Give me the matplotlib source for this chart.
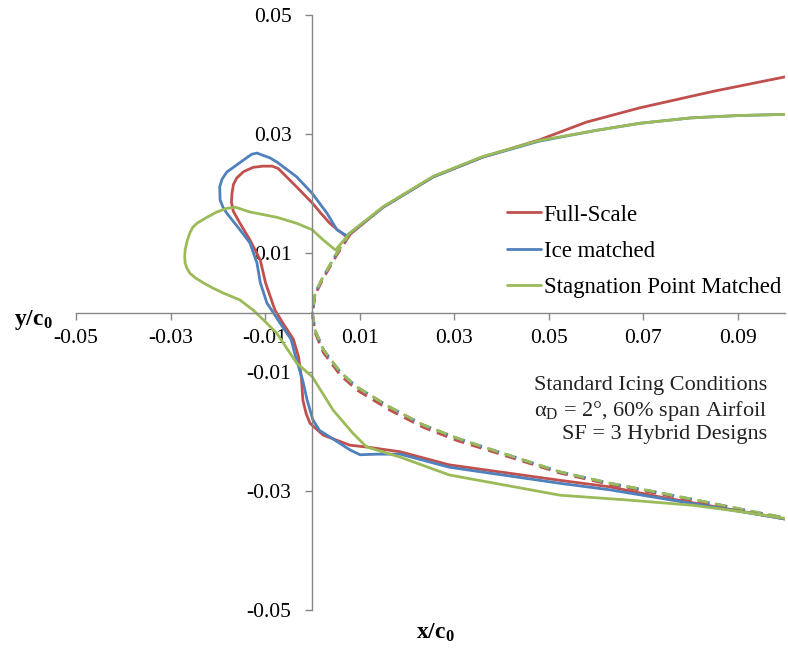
import numpy as np
import matplotlib
matplotlib.use("Agg")
import matplotlib.pyplot as plt

plt.rcParams['font.family'] = ['Liberation Serif', 'DejaVu Serif']
plt.rcParams['mathtext.fontset'] = 'custom'
plt.rcParams['mathtext.rm'] = 'Liberation Serif'
plt.rcParams['mathtext.it'] = 'Liberation Serif:italic'
plt.rcParams['mathtext.bf'] = 'Liberation Serif:bold'

RED = '#C0504D'
BLUE = '#4F81BD'
GREEN = '#9BBB59'

# ---- Iced contours (upper surface -> ice horn -> lower surface) ----
full_x = [0.1, 0.085, 0.0693, 0.058, 0.048, 0.036, 0.0256, 0.015, 0.0073,
          0.0055, 0.0037, 0.0018, 0.0, -0.0033, -0.0062, -0.0072, -0.0085,
          -0.0104, -0.0125, -0.0145, -0.016, -0.0167, -0.017, -0.0171, -0.0167,
          -0.0153, -0.0132, -0.011, -0.0099, -0.0079, -0.0062, -0.0040, -0.0029,
          -0.0023, -0.002, -0.0013, -0.0005, 0.0023, 0.008, 0.0115, 0.0186,
          0.029, 0.0524, 0.063, 0.0736, 0.085, 0.1]
full_y = [0.0396, 0.0372, 0.0344, 0.0320, 0.0290, 0.0261, 0.0228, 0.0177, 0.0127,
          0.0138, 0.015, 0.0167, 0.0184, 0.0211, 0.0234, 0.0242, 0.0246,
          0.0246, 0.0244, 0.0237, 0.0226, 0.0215, 0.0200, 0.0185, 0.0170,
          0.015, 0.0122, 0.0088, 0.005, 0.0004, -0.0018, -0.0045, -0.0075,
          -0.0110, -0.0147, -0.0170, -0.0186, -0.0206, -0.0223, -0.0226, -0.0234,
          -0.0256, -0.0282, -0.0293, -0.031, -0.0326, -0.0347]

ice_x = [0.1, 0.09, 0.08, 0.0693, 0.06, 0.048, 0.036, 0.0256, 0.015, 0.0073,
         0.0052, 0.0031, 0.0, -0.0033, -0.0075, -0.009, -0.0104, -0.0117, -0.0128,
         -0.0139, -0.016, -0.0181, -0.0191, -0.0196, -0.0195, -0.0189, -0.0181,
         -0.0153, -0.0132, -0.0117, -0.011, -0.0096, -0.0068, -0.0045, -0.0035,
         -0.002, -0.0011, 0.0001, 0.0015, 0.0037, 0.008, 0.0101, 0.0137, 0.0186,
         0.029, 0.0524, 0.063, 0.0736, 0.085, 0.1]
ice_y = [0.0333, 0.0331, 0.0327, 0.0318, 0.0306, 0.0288, 0.0261, 0.0228, 0.0177, 0.0129,
         0.0139, 0.0167, 0.020, 0.0228, 0.0253, 0.026, 0.0264, 0.0268, 0.0266,
         0.026, 0.0248, 0.0236, 0.0224, 0.0211, 0.0189, 0.0177, 0.0167,
         0.0139, 0.0117, 0.0083, 0.005, 0.0016, -0.0018, -0.0045, -0.0075,
         -0.0115, -0.0147, -0.018, -0.0198, -0.0209, -0.0231, -0.0239, -0.0238, -0.0238,
         -0.026, -0.0287, -0.0298, -0.0312, -0.0327, -0.0347]

stag_x = [0.1, 0.09, 0.08, 0.0693, 0.06, 0.048, 0.036, 0.0256, 0.015, 0.008,
          0.0049, 0.0023, 0.0, -0.0033, -0.0075, -0.0132, -0.0163, -0.0181,
          -0.0202, -0.0223, -0.0244, -0.0253, -0.0259, -0.0265, -0.0269, -0.027,
          -0.0269, -0.0265, -0.0259, -0.0247, -0.0231, -0.021, -0.0189, -0.0153,
          -0.0125, -0.0100, -0.0075, -0.0033, 0.0, 0.0044, 0.0086, 0.0115, 0.0186,
          0.029, 0.0524, 0.0666, 0.0806, 0.091, 0.1]
stag_y = [0.0333, 0.0331, 0.0327, 0.0318, 0.0306, 0.0289, 0.0262, 0.0229, 0.0178, 0.0134,
          0.0105, 0.0122, 0.0139, 0.015, 0.016, 0.0169, 0.0177, 0.0175,
          0.0169, 0.016, 0.015, 0.0143, 0.0134, 0.012, 0.0105, 0.0094,
          0.0083, 0.0074, 0.0066, 0.0058, 0.005, 0.0041, 0.0033, 0.0021,
          0.0004, -0.0015, -0.0035, -0.0085, -0.0108, -0.0164, -0.0203, -0.0226, -0.0243,
          -0.0273, -0.0307, -0.0315, -0.0324, -0.0335, -0.0346]

# ---- Clean leading edge (dashed) ----
clean_x = [0.008, 0.0052, 0.0023, 0.0006, 0.0, 0.0006, 0.0024, 0.0059, 0.0094,
           0.0164, 0.0235, 0.0306, 0.037, 0.0525, 0.063, 0.0736, 0.0842, 0.0948, 0.1]
clean_y = [0.0134, 0.010, 0.006, 0.0033, 0.0, -0.003, -0.0063, -0.010, -0.0125,
           -0.0159, -0.0189, -0.0211, -0.0228, -0.0268, -0.0287, -0.0303, -0.032, -0.0337, -0.0345]
clean_full_y = [0.0131, 0.0097, 0.0057, 0.0030, -0.0003, -0.0034, -0.0068, -0.0105, -0.0130,
                -0.0164, -0.0193, -0.0215, -0.0231, -0.0270, -0.0289, -0.0305, -0.0322, -0.0338, -0.0346]

fig = plt.figure(figsize=(7.88, 6.49), dpi=100)
ax = fig.add_axes([0.0964, 0.060, 0.8998, 0.9169])

lw = 2.0
dash = dict(lw=lw, solid_joinstyle='round', dash_capstyle='butt')
ax.plot(clean_x, clean_full_y, color=RED, ls=(0, (4, 2.5)), **dash)
ax.plot(clean_x, clean_y, color=BLUE, ls=(0, (4, 2.5)), **dash)
ax.plot(clean_x, clean_y, color=GREEN, ls=(0.6, (4, 2.5)), **dash)

solid = dict(lw=lw, solid_joinstyle='round', solid_capstyle='round')
ax.plot(full_x, full_y, color=RED, label='Full-Scale', **solid)
ax.plot(ice_x, ice_y, color=BLUE, label='Ice matched', **solid)
ax.plot(stag_x, stag_y, color=GREEN, label='Stagnation Point Matched', **solid)

ax.set_xlim(-0.05, 0.1)
ax.set_ylim(-0.05, 0.05)
ax.set_xticks([-0.05, -0.03, -0.01, 0.01, 0.03, 0.05, 0.07, 0.09])
ax.set_yticks([-0.05, -0.03, -0.01, 0.01, 0.03, 0.05])
ax.set_xticklabels(['-0.05', '-0.03', '-0.01', '0.01', '0.03', '0.05', '0.07', '0.09'])
ax.set_yticklabels(['-0.05', '-0.03', '-0.01', '0.01', '0.03', '0.05'])

for side in ('top', 'right'):
    ax.spines[side].set_visible(False)
ax.spines['left'].set_position(('data', 0))
ax.spines['bottom'].set_position(('data', 0))
for side in ('left', 'bottom'):
    ax.spines[side].set_color('#868686')
    ax.spines[side].set_linewidth(1.0)
ax.tick_params(axis='both', direction='out', length=5, width=1.0, color='#868686',
               labelsize=15.5, labelcolor='black')
ax.tick_params(axis='x', pad=7)
ax.tick_params(axis='y', pad=10)

ax.text(33, 329, r'$\mathbf{y/c_0}$', transform=None, fontsize=17,
        ha='center', va='center')
ax.text(435, 16, r'$\mathbf{x/c_0}$', transform=None, fontsize=17,
        ha='center', va='center')

leg = ax.legend(loc='upper left', bbox_to_anchor=(0.595, 0.697), frameon=False,
                fontsize=16.5, handlelength=1.5, handletextpad=0.1,
                labelspacing=0.66, borderaxespad=0)

ax.text(0.975, 0.393, 'Standard Icing Conditions\n'
        'α$_\\mathrm{D}$ = 2°, 60% span Airfoil\n'
        'SF = 3 Hybrid Designs',
        transform=ax.transAxes, fontsize=16, ha='right', va='top',
        linespacing=1.2, color='#222222')

fig.savefig('out.png', dpi=100)
